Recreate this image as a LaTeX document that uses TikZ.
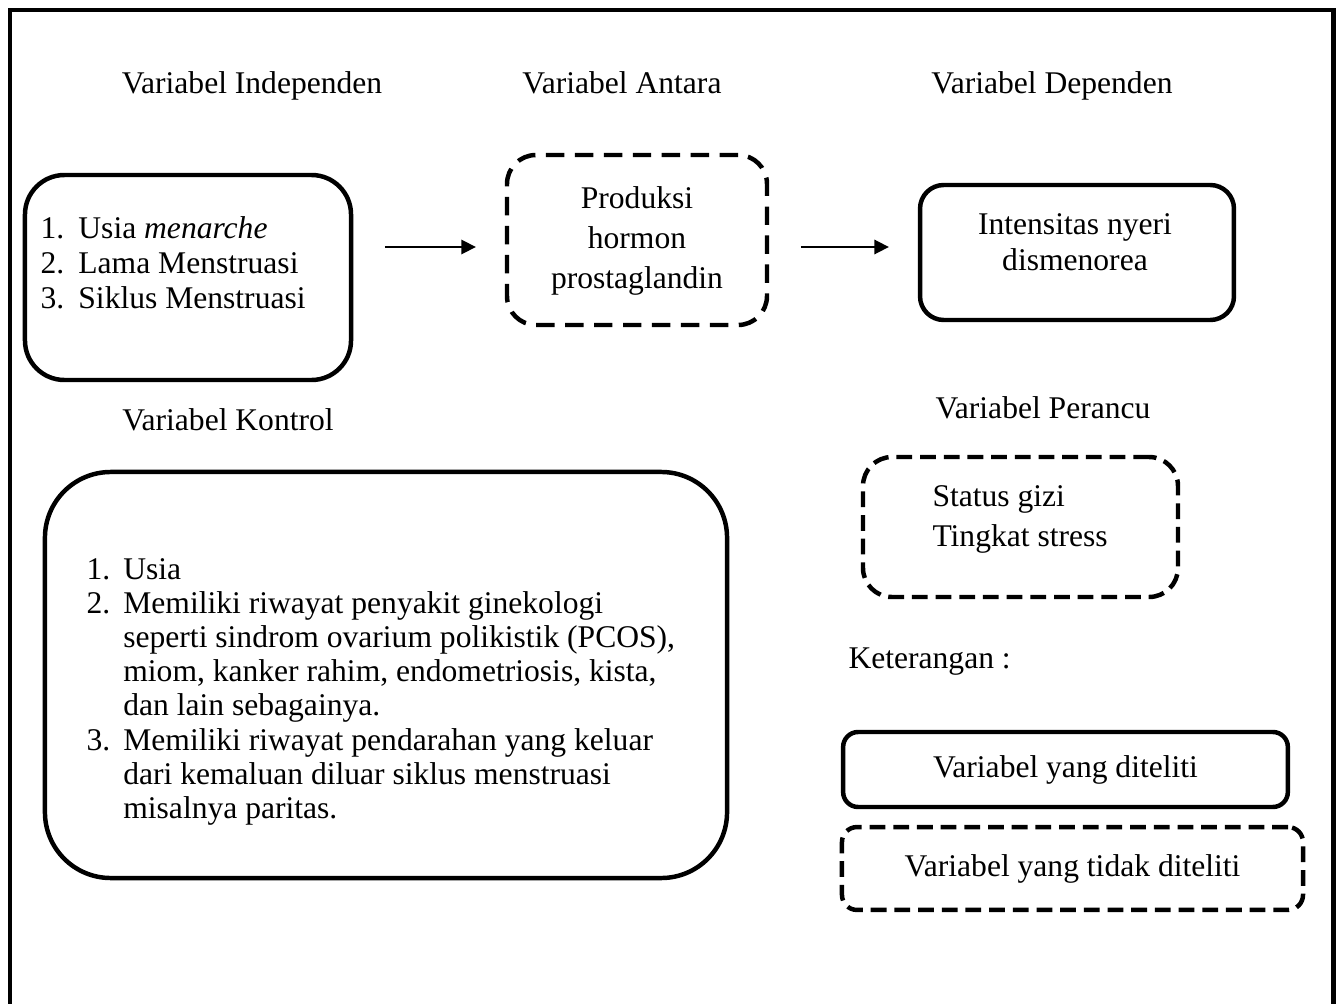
\documentclass[tikz,border=0pt]{standalone}
\usepackage{fontspec}
\setmainfont{Liberation Serif}
\usetikzlibrary{arrows.meta}

\begin{document}
\begin{tikzpicture}[x=0.38pt, y=-0.38pt,
    solidbox/.style={rectangle, draw, line width=1.7pt, align=center,
                     font=\fontsize{12pt}{13pt}\selectfont},
    dashbox/.style={solidbox, dash pattern=on 6pt off 3pt},
    txt/.style={inner sep=0pt, font=\fontsize{12pt}{13pt}\selectfont},
    head/.style={txt, anchor=base},
    arrow/.style={-{Triangle[length=5.5pt,width=5.5pt]}, line width=0.65pt,
                  shorten <=12pt, shorten >=11pt}
  ]
  \useasboundingbox (0,0) rectangle (1339,1004);
  \draw[line width=1.9pt] (10,1010) -- (10,10) -- (1333,10) -- (1333,1010);

  % headings
  \node[head] (hindep)   at (252,93)  {Variabel Independen};
  \node[head] (hantara)  at (622,93)  {Variabel Antara};
  \node[head] (hdep)     at (1052,93) {Variabel Dependen};
  \node[head] (hkontrol) at (228,430) {Variabel Kontrol};
  \node[head] (hperancu) at (1043,418) {Variabel Perancu};
  \node[head, anchor=base west] (ket) at (848,668) {Keterangan :};

  % boxes
  \node[solidbox, minimum width=123.9pt, minimum height=77.9pt, rounded corners=15pt] (indep) at (188,277.5) {};
  \node[dashbox, dash pattern=on 7pt off 4pt, minimum width=98.8pt, minimum height=64.6pt,
        rounded corners=11pt] (antara) at (637,240) {};
  \node[solidbox, minimum width=119.3pt, minimum height=51.3pt, rounded corners=9pt] (dep) at (1077,252.5) {};
  \node[dashbox, minimum width=119.7pt, minimum height=53.2pt, rounded corners=11pt] (perancu) at (1020.5,527) {};
  \node[solidbox, minimum width=259.2pt, minimum height=154.3pt, rounded corners=25pt] (kontrol) at (386,675) {};
  \node[solidbox, minimum width=169pt, minimum height=28.5pt, rounded corners=5.7pt] (leg1) at (1065.5,769.5)
    {Variabel yang diteliti};
  \node[dashbox, minimum width=175.2pt, minimum height=31.5pt, rounded corners=5.7pt] (leg2) at (1072.5,868.5)
    {Variabel yang tidak diteliti};

  % box texts
  \node[txt, anchor=west, font=\fontsize{12pt}{13.3pt}\selectfont] (indeplist) at (40,266)
    {\begin{tabular}{@{}p{14.4pt}@{}l@{}}
      1. & Usia \textit{menarche}\\
      2. & Lama Menstruasi\\
      3. & Siklus Menstruasi
    \end{tabular}};
  \node[txt, align=center, font=\fontsize{12pt}{15.2pt}\selectfont] (antaratext) at (637,241)
    {Produksi\\hormon\\prostaglandin};
  \node[txt, align=center, font=\fontsize{12pt}{13.7pt}\selectfont] (deptext) at (1075,242)
    {Intensitas nyeri\\dismenorea};
  \node[txt, anchor=west, align=left, font=\fontsize{12pt}{15.2pt}\selectfont] (perancutext) at (932,519)
    {Status gizi\\Tingkat stress};
  \node[txt, anchor=west] (kontrollist) at (86,692)
    {\begin{tabular}{@{}p{14pt}@{}l@{}}
      1. & Usia\\
      2. & Memiliki riwayat penyakit ginekologi\\
         & seperti sindrom ovarium polikistik (PCOS),\\
         & miom, kanker rahim, endometriosis, kista,\\
         & dan lain sebagainya.\\
      3. & Memiliki riwayat pendarahan yang keluar\\
         & dari kemaluan diluar siklus menstruasi\\
         & misalnya paritas.
    \end{tabular}};

  % arrows
  \coordinate (axis) at (0,247);
  \draw[arrow] (indep.east |- axis) -- (antara.west |- axis);
  \draw[arrow] (antara.east |- axis) -- (dep.west |- axis);
\end{tikzpicture}
\end{document}
